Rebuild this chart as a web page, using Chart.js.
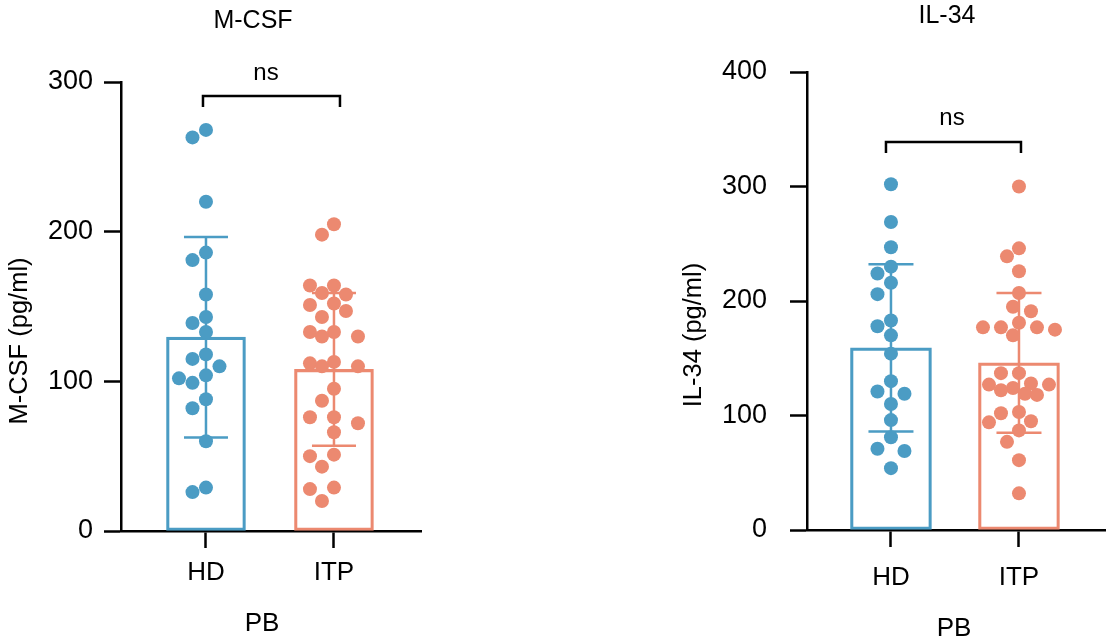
<!DOCTYPE html>
<html>
<head>
<meta charset="utf-8">
<script src="https://cdn.jsdelivr.net/npm/chart.js@4.4.1/dist/chart.umd.min.js"></script>
<style>
  body { margin: 0; background: #fff; }
  .panel { position: absolute; top: 0; width: 556px; height: 644px; }
  #left { left: 0; }
  #right { left: 556px; }
</style>
</head>
<body>
<div class="panel" id="left"><canvas id="mcsfChart" width="556" height="644"></canvas></div>
<div class="panel" id="right"><canvas id="il34Chart" width="556" height="644"></canvas></div>
<script>
// Data
const groups = ["HD", "ITP"];

const mcsfHD = [268, 263, 220, 186, 181, 158, 143, 139, 133, 118, 115, 110, 104, 102, 99, 88, 82, 60, 29, 26];
const mcsfITP = [205, 198, 164, 164, 159, 158, 152, 151, 147, 143, 133, 133, 130, 130, 113, 112, 110, 110,
                 95, 87, 76, 76, 72, 66, 51, 50, 43, 29, 28, 20];
const mcsfMean = [129.5, 108];
const mcsfSD = [67, 51];

const il34HD = [302, 269, 247, 230, 224, 216, 206, 183, 178, 170, 154, 130, 121, 119, 110, 96, 81, 71, 69, 54];
const il34ITP = [300, 246, 239, 226, 207, 195, 191, 181, 177, 177, 177, 175, 170, 137, 137, 128, 127, 127,
                 124, 122, 119, 118, 103, 102, 95, 94, 87, 77, 61, 32];
const il34Mean = [159, 146];
const il34SD = [73, 61];

const yTicksMcsf = [0, 100, 200, 300];
const yTicksIl34 = [0, 100, 200, 300, 400];

// Styling
const BLUE = "#4b9cc4";
const SALMON = "#ec8970";
const COLORS = [BLUE, SALMON];
const FONT = "'Liberation Sans', Arial, Helvetica, sans-serif";
const DOT_R = 7;

Chart.defaults.font.family = FONT;
Chart.defaults.color = "#000";

// Simple beeswarm: put each dot in the column nearest the centre that is free,
// or the least crowded one if none is
function swarmOffsets(values, yScale, diameter, step, maxOff) {
  const py = values.map((v) => yScale.getPixelForValue(v));
  const order = py.map((p, i) => i).sort((a, b) => py[a] - py[b]);
  const placed = [];
  const offs = new Array(values.length).fill(0);
  const cands = [0];
  for (let k = 1; k * step <= maxOff; k++) cands.push(-k * step, k * step);
  order.forEach((i) => {
    let best = 0, bestGap = -1;
    for (const cand of cands) {
      const gap = Math.min(Infinity, ...placed.map((q) => Math.hypot(q.x - cand, q.y - py[i])));
      if (gap >= diameter) { best = cand; bestGap = Infinity; break; }
      if (gap > bestGap) { best = cand; bestGap = gap; }
    }
    offs[i] = best;
    placed.push({ x: best, y: py[i] });
  });
  return offs;
}

function makePanel(canvasId, p) {
  // Error bars (mean +/- SD) and text annotations
  const decorations = {
    id: "decorations",
    beforeDatasetsDraw(chart) {
      const c = chart.ctx;
      const xs = chart.scales.x, ys = chart.scales.y;
      c.save();
      c.lineWidth = 2.5;
      p.means.forEach((m, i) => {
        const x = xs.getPixelForValue(i + 1);
        const top = ys.getPixelForValue(m + p.sds[i]);
        const bot = ys.getPixelForValue(m - p.sds[i]);
        c.strokeStyle = COLORS[i];
        c.beginPath();
        c.moveTo(x, top); c.lineTo(x, bot);
        c.moveTo(x - p.capWidth / 2, top); c.lineTo(x + p.capWidth / 2, top);
        c.moveTo(x - p.capWidth / 2, bot); c.lineTo(x + p.capWidth / 2, bot);
        c.stroke();
      });
      c.restore();
    },
    afterDraw(chart) {
      const c = chart.ctx;
      const xs = chart.scales.x;
      c.save();
      c.fillStyle = "#000";
      c.textAlign = "center";
      c.textBaseline = "middle";
      c.font = "25px " + FONT;
      c.fillText(p.title, p.titlePos[0], p.titlePos[1]);
      c.font = "26px " + FONT;
      c.fillText("PB", p.pbPos[0], p.pbPos[1]);
      c.font = "24px " + FONT;
      c.fillText("ns", p.nsPos[0], p.nsPos[1]);
      // significance bracket
      const x1 = xs.getPixelForValue(1) + p.bracketDx[0];
      const x2 = xs.getPixelForValue(2) + p.bracketDx[1];
      c.strokeStyle = "#000";
      c.lineWidth = 2.5;
      c.beginPath();
      c.moveTo(x1, p.bracketY[1]);
      c.lineTo(x1, p.bracketY[0]);
      c.lineTo(x2, p.bracketY[0]);
      c.lineTo(x2, p.bracketY[1]);
      c.stroke();
      // rotated y title
      c.translate(p.yTitlePos[0], p.yTitlePos[1]);
      c.rotate(-Math.PI / 2);
      c.font = "25.5px " + FONT;
      c.fillText(p.yTitle, 0, 0);
      c.restore();
    },
  };

  const axisLine = { display: true, color: "#000", width: 2.5 };

  const chart = new Chart(document.getElementById(canvasId), {
    type: "bar",
    data: {
      datasets: [
        {
          type: "bar",
          data: p.means.map((m, i) => ({ x: i + 1, y: m })),
          backgroundColor: "rgba(255,255,255,0)",
          borderColor: COLORS,
          borderWidth: 2.5,
          borderSkipped: false,
          barThickness: p.barWidth,
          order: 2,
        },
        {
          type: "scatter",
          data: p.hd.map((v) => ({ x: 1, y: v })),
          backgroundColor: BLUE,
          pointRadius: DOT_R,
          pointBorderWidth: 0,
          order: 1,
        },
        {
          type: "scatter",
          data: p.itp.map((v) => ({ x: 2, y: v })),
          backgroundColor: SALMON,
          pointRadius: DOT_R,
          pointBorderWidth: 0,
          order: 1,
        },
      ],
    },
    options: {
      responsive: false,
      animation: false,
      layout: { padding: { top: p.padTop, right: p.padRight, left: 0, bottom: 0 } },
      plugins: { legend: { display: false }, tooltip: { enabled: false } },
      scales: {
        x: {
          type: "linear",
          position: "bottom",
          offset: false,
          min: p.xRange[0],
          max: p.xRange[1],
          border: axisLine,
          grid: { offset: false, drawOnChartArea: false, drawTicks: true, tickLength: 17, tickColor: "#000", tickWidth: 2.5 },
          afterBuildTicks: (s) => { s.ticks = groups.map((g, i) => ({ value: i + 1 })); },
          ticks: {
            padding: p.xLabelPad,
            font: { size: 26 },
            callback: (v) => groups[v - 1],
          },
          afterFit: (s) => { s.height = p.xAxisHeight; },
        },
        y: {
          min: 0,
          max: p.yTicks[p.yTicks.length - 1],
          border: axisLine,
          grid: { drawOnChartArea: false, drawTicks: true, tickLength: 17, tickColor: "#000", tickWidth: 2.5 },
          afterBuildTicks: (s) => { s.ticks = p.yTicks.map((v) => ({ value: v })); },
          ticks: { padding: p.yLabelPad, font: { size: 27 } },
          afterFit: (s) => { s.width = p.yAxisWidth; },
        },
      },
    },
    plugins: [decorations],
  });

  // spread the dots now that the scales have pixel positions
  const xs = chart.scales.x, ys = chart.scales.y;
  const unit = xs.getPixelForValue(2) - xs.getPixelForValue(1);
  [p.hd, p.itp].forEach((vals, g) => {
    const offs = swarmOffsets(vals, ys, DOT_R * 2, p.swarmStep[g], p.barWidth / 2 - 3);
    chart.data.datasets[g + 1].data = vals.map((v, i) => ({ x: g + 1 + offs[i] / unit, y: v }));
  });
  chart.update("none");
  return chart;
}

makePanel("mcsfChart", {
  hd: mcsfHD, itp: mcsfITP, means: mcsfMean, sds: mcsfSD, yTicks: yTicksMcsf,
  title: "M-CSF", yTitle: "M-CSF (pg/ml)",
  padTop: 82, padRight: 135, yAxisWidth: 121, xAxisHeight: 113,
  xRange: [0.336, 2.68], barWidth: 79, capWidth: 44, swarmStep: [13.5, 12],
  yLabelPad: 11, xLabelPad: 9,
  titlePos: [253, 21], pbPos: [262, 624], nsPos: [266, 73],
  bracketY: [96, 107], bracketDx: [-3, 6], yTitlePos: [20, 341],
});

makePanel("il34Chart", {
  hd: il34HD, itp: il34ITP, means: il34Mean, sds: il34SD, yTicks: yTicksIl34,
  title: "IL-34", yTitle: "IL-34 (pg/ml)",
  padTop: 72, padRight: 0, yAxisWidth: 251, xAxisHeight: 114,
  xRange: [0.344, 2.672], barWidth: 81, capWidth: 45, swarmStep: [13.5, 6],
  yLabelPad: 23, xLabelPad: 15,
  titlePos: [391, 16], pbPos: [398, 629], nsPos: [396, 118],
  bracketY: [142, 153], bracketDx: [-5, 2], yTitlePos: [138, 335],
});
</script>
</body>
</html>
